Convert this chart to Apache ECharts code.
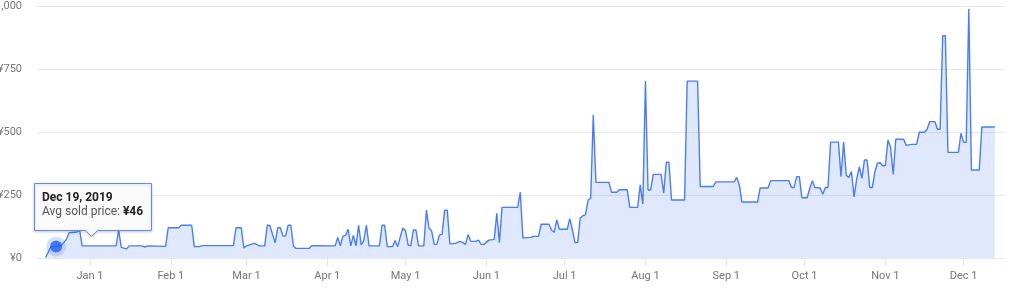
<!DOCTYPE html>
<html><head><meta charset="utf-8">
<script src="https://cdn.jsdelivr.net/npm/echarts@6/dist/echarts.min.js"></script>
<style>html,body{margin:0;padding:0;background:#fff}#c{width:1024px;height:304px}</style>
</head><body><div id="c"></div>
<script>
const saleDates = [
'2019-12-15','2019-12-17','2019-12-19','2019-12-21','2019-12-23','2019-12-24','2019-12-27','2019-12-28','2019-12-29',
'2020-01-11','2020-01-12','2020-01-13','2020-01-15','2020-01-16','2020-01-21','2020-01-22','2020-01-23','2020-01-30','2020-01-31',
'2020-02-04','2020-02-05','2020-02-09','2020-02-10','2020-02-12','2020-02-13','2020-02-25','2020-02-26','2020-02-28','2020-02-29',
'2020-03-01','2020-03-04','2020-03-06','2020-03-08','2020-03-09','2020-03-10','2020-03-12','2020-03-13','2020-03-14','2020-03-15','2020-03-16','2020-03-17','2020-03-18','2020-03-19','2020-03-20','2020-03-25','2020-03-26',
'2020-04-04','2020-04-05','2020-04-06','2020-04-07','2020-04-08','2020-04-09','2020-04-10','2020-04-11','2020-04-12','2020-04-13','2020-04-14','2020-04-15','2020-04-16','2020-04-17','2020-04-21','2020-04-22','2020-04-23','2020-04-24','2020-04-26','2020-04-27','2020-04-28','2020-04-29','2020-04-30',
'2020-05-01','2020-05-02','2020-05-03','2020-05-04','2020-05-05','2020-05-06','2020-05-08','2020-05-09','2020-05-10','2020-05-11','2020-05-12','2020-05-13','2020-05-14','2020-05-15','2020-05-16','2020-05-17','2020-05-18','2020-05-20','2020-05-22','2020-05-23','2020-05-24','2020-05-25','2020-05-26','2020-05-28','2020-05-29','2020-05-30','2020-05-31',
'2020-06-02','2020-06-04','2020-06-05','2020-06-06','2020-06-07','2020-06-13','2020-06-14','2020-06-15','2020-06-18','2020-06-19','2020-06-21','2020-06-22','2020-06-25','2020-06-26','2020-06-27','2020-06-28','2020-06-29',
'2020-07-02','2020-07-03','2020-07-04','2020-07-05','2020-07-06','2020-07-07','2020-07-08','2020-07-09','2020-07-10','2020-07-11','2020-07-12','2020-07-13','2020-07-18','2020-07-19','2020-07-21','2020-07-22','2020-07-25','2020-07-26','2020-07-29','2020-07-30','2020-07-31',
'2020-08-01','2020-08-02','2020-08-03','2020-08-04','2020-08-07','2020-08-08','2020-08-09','2020-08-10','2020-08-11','2020-08-16','2020-08-17','2020-08-21','2020-08-22','2020-08-27','2020-08-28',
'2020-09-04','2020-09-05','2020-09-06','2020-09-07','2020-09-13','2020-09-14','2020-09-17','2020-09-18','2020-09-25','2020-09-26','2020-09-27','2020-09-28','2020-09-29','2020-09-30',
'2020-10-02','2020-10-03','2020-10-04','2020-10-05','2020-10-07','2020-10-08','2020-10-09','2020-10-10','2020-10-11','2020-10-14','2020-10-15','2020-10-16','2020-10-17','2020-10-18','2020-10-19','2020-10-20','2020-10-21','2020-10-22','2020-10-23','2020-10-24','2020-10-25','2020-10-26','2020-10-27','2020-10-28','2020-10-29','2020-10-30','2020-10-31',
'2020-11-01','2020-11-02','2020-11-03','2020-11-04','2020-11-05','2020-11-08','2020-11-09','2020-11-11','2020-11-13','2020-11-14','2020-11-16','2020-11-17','2020-11-18','2020-11-20','2020-11-21','2020-11-22','2020-11-23','2020-11-24','2020-11-25','2020-11-29','2020-11-30',
'2020-12-01','2020-12-02','2020-12-03','2020-12-04','2020-12-07','2020-12-08','2020-12-13'
];
const avgPrices = [
2,45,46,50,75,100,103,112,48,
48,111,42,36,48,48,43,48,46,120,
120,130,130,45,45,49,49,120,120,40,
48,58,48,48,131,128,60,120,120,87,87,130,130,48,38,38,49,
48,82,48,87,90,114,48,90,48,130,52,69,130,48,48,130,130,45,45,69,45,85,119,
108,52,48,111,111,48,48,190,118,108,54,54,91,94,190,190,56,58,66,61,54,93,66,66,71,54,54,
71,74,177,61,201,201,261,80,82,86,86,134,134,111,102,151,114,
114,156,111,61,61,159,168,171,230,237,567,300,300,261,261,271,271,201,201,290,214,
702,270,270,332,332,257,380,380,230,230,702,702,284,284,302,
302,320,290,222,222,278,278,307,307,280,280,323,323,239,
239,276,307,280,278,253,280,280,460,460,323,460,328,320,343,242,313,362,316,389,389,280,280,343,376,378,366,
366,468,439,332,471,471,447,451,451,499,499,511,541,541,511,511,882,882,419,419,495,
459,459,988,349,349,520,520
];
const xTickDates = ['2020-01-01','2020-02-01','2020-03-01','2020-04-01','2020-05-01','2020-06-01','2020-07-01','2020-08-01','2020-09-01','2020-10-01','2020-11-01','2020-12-01'];
const xTickLabels = ['Jan 1','Feb 1','Mar 1','Apr 1','May 1','Jun 1','Jul 1','Aug 1','Sep 1','Oct 1','Nov 1','Dec 1'];
const yTickValues = [0,250,500,750,1000];
const yTickLabels = ['¥0','¥250','¥500','¥750','¥1,000'];
const tipDate = '2019-12-19';
const tipTitle = 'Dec 19, 2019';
const tipLabel = 'Avg sold price: ';

function parseDay(s){const p=s.split('-').map(Number);return new Date(p[0],p[1]-1,p[2]).getTime();}
const DAY = 86400000;
const seriesData = saleDates.map((d,i)=>[parseDay(d), avgPrices[i]]);
const tickTimes = xTickDates.map(parseDay);
const tipIdx = saleDates.indexOf(tipDate);
const tipPoint = seriesData[tipIdx];
const xMin = parseDay('2019-12-12') - 0.32*DAY;
const xMax = xMin + 371.2*DAY;

const chart = echarts.init(document.getElementById('c'), null, {renderer:'canvas'});
const FONT = 'Roboto, "Liberation Sans", Arial, sans-serif';
chart.setOption({
  animation:false,
  backgroundColor:'#fff',
  textStyle:{fontFamily:FONT},
  grid:{left:37,right:19,top:6,bottom:46,containLabel:false,outerBoundsMode:'none'},
  xAxis:{
    type:'value',
    min:xMin, max:xMax, scale:true,
    axisLine:{show:false},
    axisTick:{show:true,length:8,lineStyle:{color:'#e3e3e3'},customValues:tickTimes},
    axisLabel:{customValues:tickTimes,color:'#757575',fontSize:11,margin:13,fontFamily:FONT,
      formatter:function(v){const i=tickTimes.indexOf(v);return i>=0?xTickLabels[i]:'';}},
    splitLine:{show:false}
  },
  yAxis:{
    type:'value',min:0,max:1000,interval:250,
    axisLine:{show:false},axisTick:{show:false},
    axisLabel:{color:'#757575',fontSize:11,margin:15,fontFamily:FONT,
      formatter:function(v){const i=yTickValues.indexOf(v);return i>=0?yTickLabels[i]:'';}},
    splitLine:{lineStyle:{color:'#e8e8e8',width:1}}
  },
  series:[
    {type:'line',data:seriesData,showSymbol:false,symbol:'none',
     lineStyle:{color:'#4a7df4',width:1.4},
     areaStyle:{color:'rgba(60,110,240,0.23)'},z:2},
    {type:'scatter',data:[tipPoint],symbolSize:20,itemStyle:{color:'rgba(70,125,245,0.28)'},z:3,silent:true},
    {type:'scatter',data:[tipPoint],symbolSize:12,itemStyle:{color:'#1f5ff0'},z:4,silent:true}
  ]
});

const p = chart.convertToPixel({gridIndex:0}, tipPoint);
const L = Math.round(p[0]-22)+0.5, T = Math.round(p[1]-63)+0.5, R = L+117, B = T+47;
const px = L+57;
chart.setOption({graphic:[
  {type:'polygon',z:100,shape:{points:[[L,T],[R,T],[R,B],[px+6,B],[px,B+6],[px-6,B],[L,B]]},
   style:{fill:'#fafafa',stroke:'#5b8cf5',lineWidth:1,shadowBlur:3,shadowColor:'rgba(0,0,0,0.18)',shadowOffsetY:1}},
  {type:'text',z:101,left:L+7.5,top:T+8,style:{text:tipTitle,font:'bold 12px '+FONT,fill:'#222'}},
  {type:'text',z:101,left:L+7.5,top:T+22,style:{
     text:'{a|'+tipLabel+'}{b|¥'+avgPrices[tipIdx]+'}',
     rich:{a:{font:'12px '+FONT,fill:'#555'},b:{font:'bold 12px '+FONT,fill:'#222'}}}}
]});
</script></body></html>
